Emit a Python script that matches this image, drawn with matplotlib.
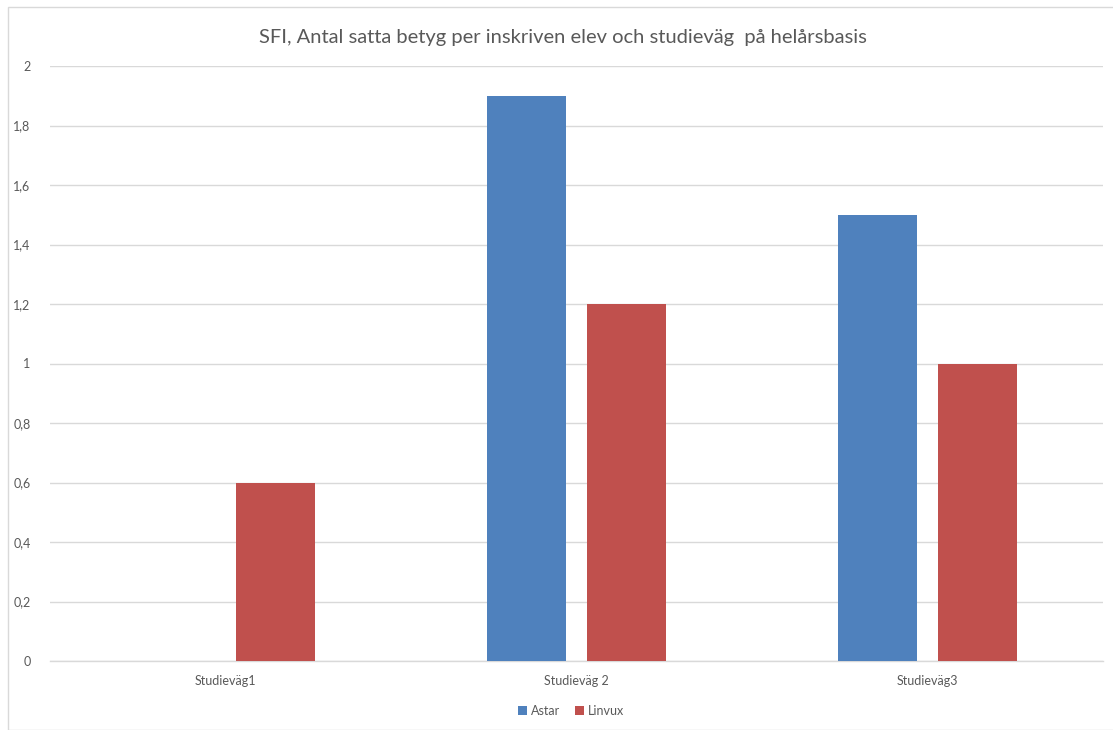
import matplotlib
matplotlib.use("Agg")
import matplotlib.pyplot as plt
import numpy as np
from matplotlib.patches import Rectangle

plt.rcParams['font.family'] = ['Lato', 'DejaVu Sans']

categories = ["Studieväg1", "Studieväg 2", "Studieväg3"]
astar = [0.0, 1.9, 1.5]
linvux = [0.6, 1.2, 1.0]
yticks = [0, 0.2, 0.4, 0.6, 0.8, 1.0, 1.2, 1.4, 1.6, 1.8, 2.0]
ytick_labels = ["0", "0,2", "0,4", "0,6", "0,8", "1", "1,2", "1,4", "1,6", "1,8", "2"]
title = "SFI, Antal satta betyg per inskriven elev och studieväg  på helårsbasis"

fig = plt.figure(figsize=(11.13, 7.30), dpi=100)
fig.patches.append(Rectangle((8/1113, 0), 1.2, 1 - 7/730, transform=fig.transFigure,
                             fill=False, edgecolor="#d9d9d9", linewidth=1.0))
ax = fig.add_axes([50/1113, 1 - 661/730, (1103 - 50)/1113, (661 - 66)/730])

x = np.arange(len(categories))
w = 0.225
off = 0.1425
gray = "#595959"
ax.bar(x - off, astar, w, color="#4F81BD", label="Astar", zorder=3)
ax.bar(x + off, linvux, w, color="#C0504D", label="Linvux", zorder=3)

ax.set_xlim(-0.5, 2.5)
ax.set_ylim(0, 2)
ax.set_yticks(yticks)
ax.set_yticklabels(ytick_labels)
ax.set_xticks(x)
ax.set_xticklabels(categories)
ax.yaxis.grid(True, color="#d9d9d9", linewidth=1.0, zorder=0)
for s in ["top", "right", "left"]:
    ax.spines[s].set_visible(False)
ax.spines["bottom"].set_color("#d9d9d9")
ax.spines["bottom"].set_linewidth(1.0)
ax.tick_params(axis="both", length=0, colors=gray, labelsize=9)
ax.tick_params(axis="y", pad=14)
ax.tick_params(axis="x", pad=10)

fig.text(563/1113, 1 - 38/730, title, ha="center", va="center", fontsize=14.5, color=gray)
leg = fig.legend(loc="center", bbox_to_anchor=(571/1113, 1 - 711/730), ncol=2, frameon=False,
                 fontsize=9, handlelength=0.7, handleheight=0.7, handletextpad=0.3,
                 columnspacing=1.2, labelcolor=gray)

fig.savefig("out.png", dpi=100)
